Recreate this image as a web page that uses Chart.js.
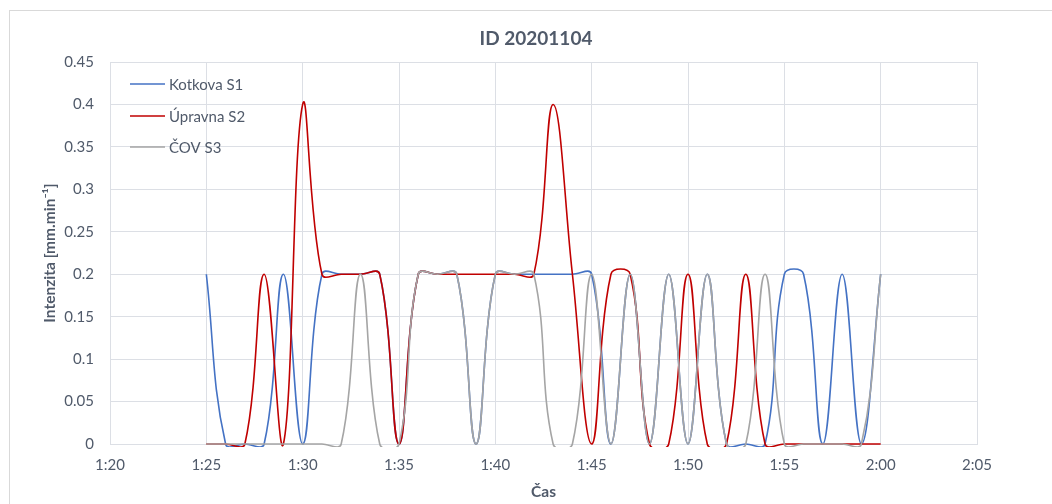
<!DOCTYPE html>
<html>
<head>
<meta charset="utf-8">
<script src="https://cdn.jsdelivr.net/npm/chart.js@4"></script>
<style>
  html, body { margin: 0; padding: 0; background: #fff; overflow: hidden; }
  #frame { position: absolute; left: 9px; top: 10px; width: 1200px; height: 700px; border: 1px solid #d9d9d9; }
  #wrap { position: absolute; left: 0; top: 0; width: 1052px; height: 504px; }
</style>
</head>
<body>
<div id="frame"></div>
<div id="wrap"><canvas id="mycanvas" width="1052" height="504"></canvas></div>
<script>
// data, one value per minute
var times = ['1:25','1:26','1:27','1:28','1:29','1:30','1:31','1:32','1:33','1:34',
             '1:35','1:36','1:37','1:38','1:39','1:40','1:41','1:42','1:43','1:44',
             '1:45','1:46','1:47','1:48','1:49','1:50','1:51','1:52','1:53','1:54',
             '1:55','1:56','1:57','1:58','1:59','2:00'];
var kotkova = [0.2,0,0,0,0.2,0,0.2,0.2,0.2,0.2,
               0,0.2,0.2,0.2,0,0.2,0.2,0.2,0.2,0.2,
               0.2,0,0.2,0,0.2,0,0.2,0,0,0,
               0.2,0.2,0,0.2,0,0.2];
var upravna = [0,0,0,0.2,0,0.4,0.2,0.2,0.2,0.2,
               0,0.2,0.2,0.2,0.2,0.2,0.2,0.2,0.4,0.2,
               0,0.2,0.2,0,0,0.2,0,0,0.2,0,
               0,0,0,0,0,0];
var cov = [0,0,0,0,0,0,0,0,0.2,0,
           0,0.2,0.2,0.2,0,0.2,0.2,0.2,0,0,
           0.2,0,0.2,0,0.2,0,0.2,0,0,0.2,
           0,0,0,0,0,0.2];
var xTicks = ['1:20','1:25','1:30','1:35','1:40','1:45','1:50','1:55','2:00','2:05'];

var txtColor = '#505a6a';
var gridColor = '#dcdfe5';
var fontName = 'Lato';

function toMin(t) {
    var p = t.split(':');
    return parseInt(p[0]) * 60 + parseInt(p[1]);
}
function pts(vals) {
    return vals.map(function (v, i) { return { x: toMin(times[i]), y: v }; });
}

// title and legend drawn inside the plot like the original
var extras = {
    id: 'extras',
    afterDraw: function (chart) {
        var ctx = chart.ctx;
        ctx.save();
        ctx.fillStyle = txtColor;
        ctx.font = 'bold 19px ' + fontName;
        ctx.textAlign = 'center';
        ctx.textBaseline = 'middle';
        ctx.fillText('ID 20201104', 536, 39);

        ctx.font = '15px ' + fontName;
        ctx.textAlign = 'left';
        var rows = [84, 116, 147];
        chart.data.datasets.forEach(function (ds, i) {
            ctx.strokeStyle = ds.borderColor;
            ctx.lineWidth = 1.5;
            ctx.beginPath();
            ctx.moveTo(130, rows[i]);
            ctx.lineTo(165, rows[i]);
            ctx.stroke();
            ctx.fillText(ds.label, 169, rows[i] + 1);
        });
        ctx.restore();
    }
};

var ctx = document.getElementById('mycanvas');
var chart = new Chart(ctx, {
    type: 'line',
    data: {
        datasets: [
            { label: 'Kotkova S1', data: pts(kotkova), borderColor: '#4472C4', order: 3 },
            { label: 'Úpravna S2', data: pts(upravna), borderColor: '#C00000', order: 2 },
            { label: 'ČOV S3', data: pts(cov), borderColor: '#A5A5A5', order: 1 }
        ]
    },
    options: {
        responsive: false,
        animation: false,
        layout: { padding: { left: 0, right: 75, top: 62, bottom: 0 } },
        elements: {
            point: { radius: 0 },
            line: { borderWidth: 1.6, tension: 0.4, fill: false, capBezierPoints: false }
        },
        datasets: { line: { clip: { left: 2, right: 2, top: 2, bottom: 3 } } },
        plugins: {
            legend: { display: false },
            title: { display: false },
            tooltip: { enabled: false }
        },
        scales: {
            x: {
                type: 'linear',
                min: toMin(xTicks[0]),
                max: toMin(xTicks[xTicks.length - 1]),
                afterBuildTicks: function (s) {
                    s.ticks = xTicks.map(function (t) { return { value: toMin(t) }; });
                },
                afterFit: function (s) { s.height = 60; },
                grid: { color: gridColor, drawTicks: false },
                border: { color: gridColor },
                ticks: {
                    padding: 12,
                    color: txtColor,
                    font: { family: fontName, size: 15 },
                    maxRotation: 0,
                    callback: function (v) {
                        var m = v % 60;
                        return Math.floor(v / 60) + ':' + (m < 10 ? '0' : '') + m;
                    }
                },
                title: {
                    display: true,
                    text: 'Čas',
                    color: txtColor,
                    font: { family: fontName, size: 15.5, weight: 'bold' },
                    padding: { top: 0, bottom: 3 }
                }
            },
            y: {
                min: 0,
                max: 0.45,
                afterFit: function (s) { s.width = 110; },
                grid: { color: gridColor, drawTicks: false },
                border: { color: gridColor },
                ticks: {
                    stepSize: 0.05,
                    padding: 16,
                    color: txtColor,
                    font: { family: fontName, size: 15 },
                    callback: function (v) { return String(+v.toFixed(2)); }
                },
                title: {
                    display: true,
                    text: 'Intenzita [mm.min⁻¹]',
                    color: txtColor,
                    font: { family: fontName, size: 15.5, weight: 'bold' },
                    padding: { top: 41, bottom: 0 }
                }
            }
        }
    },
    plugins: [extras]
});
</script>
</body>
</html>
